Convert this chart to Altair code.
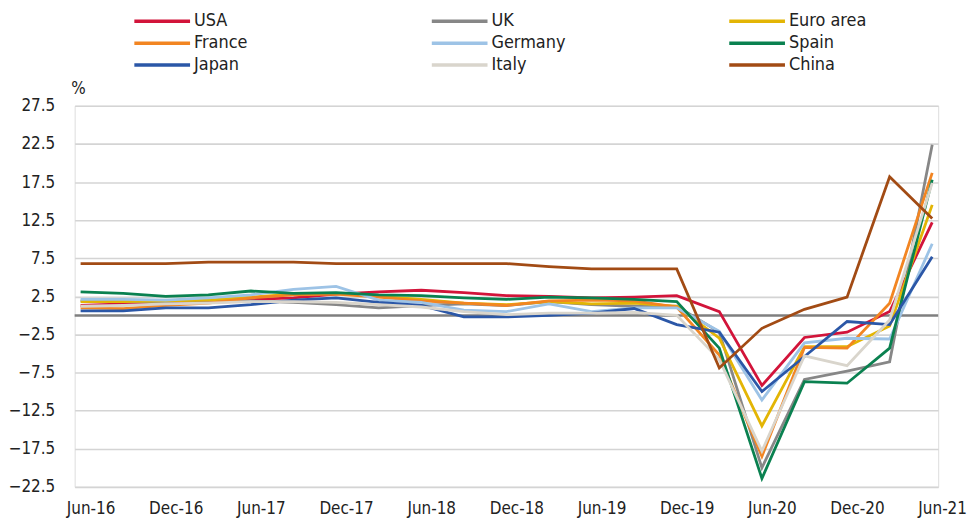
import altair as alt
import pandas as pd

quarters = ["Jun-16", "Sep-16", "Dec-16", "Mar-17", "Jun-17", "Sep-17", "Dec-17",
            "Mar-18", "Jun-18", "Sep-18", "Dec-18", "Mar-19", "Jun-19", "Sep-19",
            "Dec-19", "Mar-20", "Jun-20", "Sep-20", "Dec-20", "Mar-21", "Jun-21"]
tick_labels = quarters[::2]

series_names = ["USA", "UK", "Euro area", "France", "Germany", "Spain", "Japan", "Italy", "China"]
series_colors = ["#D2143A", "#878787", "#E3B505", "#F28522", "#9DC3E6", "#0A8150", "#2B57A7", "#D9D5CC", "#A24B14"]

usa = [1.3, 1.5, 1.8, 1.9, 2.1, 2.3, 2.8, 3.1, 3.3, 3.0, 2.6, 2.5, 2.3, 2.4, 2.6, 0.5, -9.2, -2.9, -2.2, 0.5, 12.2]
uk = [1.9, 1.8, 1.8, 2.0, 1.9, 1.7, 1.4, 1.0, 1.3, 1.5, 1.3, 1.8, 1.4, 1.2, 1.2, -2.2, -20.0, -8.4, -7.3, -6.1, 22.4]
euro = [1.8, 1.8, 1.9, 2.0, 2.4, 2.8, 2.9, 2.5, 2.1, 1.6, 1.4, 1.8, 1.5, 1.6, 1.2, -3.0, -14.5, -4.1, -4.1, -1.4, 14.5]
france = [1.0, 0.9, 1.3, 1.6, 2.3, 2.7, 2.8, 2.4, 1.9, 1.6, 1.3, 1.9, 2.0, 1.9, 1.1, -5.2, -18.5, -4.2, -4.3, 1.6, 18.7]
germany = [2.1, 2.1, 2.0, 2.3, 2.7, 3.4, 3.8, 2.0, 1.7, 0.7, 0.5, 1.5, 0.5, 1.0, 1.0, -2.1, -11.1, -3.6, -3.0, -3.1, 9.4]
spain = [3.1, 2.9, 2.5, 2.7, 3.2, 2.9, 3.0, 2.7, 2.6, 2.3, 2.1, 2.4, 2.3, 2.1, 1.8, -4.3, -21.4, -8.7, -8.9, -4.3, 17.8]
japan = [0.6, 0.6, 1.0, 1.0, 1.4, 2.0, 2.3, 1.7, 1.3, -0.2, -0.2, 0.0, 0.3, 0.9, -1.2, -2.2, -10.0, -5.4, -0.8, -1.2, 7.7]
italy = [1.2, 1.3, 1.5, 1.6, 1.8, 1.8, 1.7, 1.4, 1.1, 0.5, 0.1, 0.3, 0.3, 0.4, 0.0, -5.8, -17.8, -5.3, -6.6, -0.6, 17.4]
china = [6.8, 6.8, 6.8, 7.0, 7.0, 7.0, 6.8, 6.8, 6.8, 6.8, 6.8, 6.4, 6.1, 6.1, 6.1, -6.9, -1.7, 0.8, 2.4, 18.2, 12.7]

y_ticks = [-22.5, -17.5, -12.5, -7.5, -2.5, 2.5, 7.5, 12.5, 17.5, 22.5, 27.5]
zero_line = [0]

all_values = [usa, uk, euro, france, germany, spain, japan, italy, china]
rows = []
for name, vals in zip(series_names, all_values):
    for q, v in zip(quarters, vals):
        rows.append({"quarter": q, "series": name, "value": v})
df = pd.DataFrame(rows)

FONT = "DejaVu Sans Condensed"
TXT = "#222222"

x_enc = alt.X("quarter:O", sort=quarters,
              scale=alt.Scale(type="point", padding=0.14),
              axis=alt.Axis(values=tick_labels, labelAngle=0, title=None, domain=False,
                            ticks=False, grid=False, labelFontSize=17, labelPadding=14,
                            labelColor=TXT, labelFont=FONT, labelOffset=10))

y_scale = alt.Scale(domain=[-22.5, 27.5], nice=False, zero=False)
y_axis = alt.Axis(values=y_ticks, tickCount=len(y_ticks) + 2, format=".1f",
                  title="%", titleAngle=0,
                  titleX=-4, titleY=-12, titleAlign="left", titleBaseline="alphabetic",
                  titleFont=FONT, titleFontSize=17, titleFontWeight="normal",
                  titleColor=TXT, labelOverlap=False,
                  domain=False, ticks=False, tickSize=0, labelPadding=20,
                  labelFontSize=17, labelFont=FONT, labelColor=TXT,
                  grid=True, gridColor="#D4D4D4", gridWidth=1.6)

lines = alt.Chart(df).mark_line(strokeWidth=2.8).encode(
    x=x_enc,
    y=alt.Y("value:Q", scale=y_scale, axis=y_axis),
    color=alt.Color("series:N", sort=series_names,
                    scale=alt.Scale(domain=series_names, range=series_colors),
                    legend=alt.Legend(title=None, orient="none", legendX=58, legendY=-94,
                                      direction="horizontal",
                                      columns=3, gridAlign="all", columnPadding=154,
                                      rowPadding=4,
                                      symbolType="M-1,0H7", symbolSize=196,
                                      symbolStrokeWidth=3.5, labelOffset=44,
                                      labelFontSize=18, labelFont=FONT, labelColor=TXT)),
)

zero = alt.Chart(pd.DataFrame({"value": zero_line})).mark_rule(color="#7F7F7F", strokeWidth=2.5).encode(
    y=alt.Y("value:Q", scale=y_scale, axis=y_axis)
)

chart = alt.layer(zero, lines).properties(
    width=868, height=383,
    padding={"top": 3, "left": 0, "right": 5, "bottom": 5}
).configure_view(stroke=None, strokeWidth=0).configure(background="white")

chart.save("out.html", embed_options={"renderer": "svg", "actions": False})
